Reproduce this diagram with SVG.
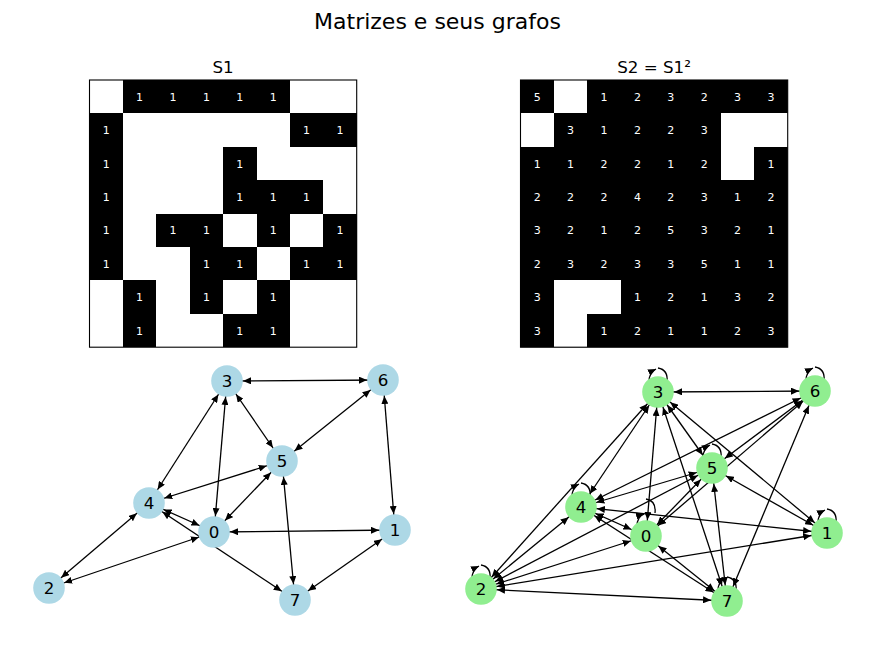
<svg xmlns="http://www.w3.org/2000/svg" width="875" height="653" viewBox="0 0 875 653">
<style>
text{font-family:"DejaVu Sans","Liberation Sans",sans-serif;}
.title{font-size:22px;text-anchor:middle;fill:#000;}
.sub{font-size:16.7px;text-anchor:middle;fill:#000;}
.cv{font-size:11px;text-anchor:middle;fill:#fff;}
.blk{fill:#000;}
.wht{fill:#fff;}
.frame{fill:none;stroke:#000;stroke-width:1.1;}
.e{stroke:#000;stroke-width:1.3;fill:none;marker-start:url(#ah);marker-end:url(#ah);}
.loop{stroke:#000;stroke-width:1.3;fill:none;marker-end:url(#lh);}
.nb{fill:#add8e6;}
.ng{fill:#90ee90;}
.nl{font-size:16.7px;text-anchor:middle;fill:#000;}
</style>
<defs>
<marker id="ah" markerUnits="userSpaceOnUse" markerWidth="8" markerHeight="7" refX="24" refY="3.5" orient="auto-start-reverse"><path d="M0,0 L8,3.5 L0,7 z" fill="#000"/></marker>
<marker id="lh" markerUnits="userSpaceOnUse" markerWidth="8" markerHeight="7" refX="8" refY="3.5" orient="auto"><path d="M0,0 L8,3.5 L0,7 z" fill="#000"/></marker>
</defs>
<rect width="875" height="653" fill="#fff"/>
<text class="title" x="437.5" y="28.5">Matrizes e seus grafos</text>

<g id="matrix-S1">
<text class="sub" x="223" y="72.5">S1</text>
<rect class="wht" x="89.5" y="80" width="267.2" height="267.2"/>
<g class="blk" shape-rendering="crispEdges">
<rect x="122.9" y="80" width="167" height="33.4"/>
<rect x="89.5" y="113.4" width="33.4" height="167"/>
<rect x="289.9" y="113.4" width="66.8" height="33.4"/>
<rect x="223.1" y="146.8" width="33.4" height="33.4"/>
<rect x="223.1" y="180.2" width="100.2" height="33.4"/>
<rect x="156.3" y="213.6" width="66.8" height="33.4"/>
<rect x="256.5" y="213.6" width="33.4" height="33.4"/>
<rect x="323.3" y="213.6" width="33.4" height="33.4"/>
<rect x="189.7" y="247" width="66.8" height="33.4"/>
<rect x="289.9" y="247" width="66.8" height="33.4"/>
<rect x="122.9" y="280.4" width="33.4" height="66.8"/>
<rect x="189.7" y="280.4" width="33.4" height="33.4"/>
<rect x="256.5" y="280.4" width="33.4" height="66.8"/>
<rect x="223.1" y="313.8" width="33.4" height="33.4"/>
</g>
<g>
<text class="cv" x="139.6" y="100.7">1</text><text class="cv" x="173" y="100.7">1</text><text class="cv" x="206.4" y="100.7">1</text><text class="cv" x="239.8" y="100.7">1</text><text class="cv" x="273.2" y="100.7">1</text>
<text class="cv" x="106.2" y="134.1">1</text><text class="cv" x="306.6" y="134.1">1</text><text class="cv" x="340" y="134.1">1</text>
<text class="cv" x="106.2" y="167.5">1</text><text class="cv" x="239.8" y="167.5">1</text>
<text class="cv" x="106.2" y="200.9">1</text><text class="cv" x="239.8" y="200.9">1</text><text class="cv" x="273.2" y="200.9">1</text><text class="cv" x="306.6" y="200.9">1</text>
<text class="cv" x="106.2" y="234.3">1</text><text class="cv" x="173" y="234.3">1</text><text class="cv" x="206.4" y="234.3">1</text><text class="cv" x="273.2" y="234.3">1</text><text class="cv" x="340" y="234.3">1</text>
<text class="cv" x="106.2" y="267.7">1</text><text class="cv" x="206.4" y="267.7">1</text><text class="cv" x="239.8" y="267.7">1</text><text class="cv" x="306.6" y="267.7">1</text><text class="cv" x="340" y="267.7">1</text>
<text class="cv" x="139.6" y="301.1">1</text><text class="cv" x="206.4" y="301.1">1</text><text class="cv" x="273.2" y="301.1">1</text>
<text class="cv" x="139.6" y="334.5">1</text><text class="cv" x="239.8" y="334.5">1</text><text class="cv" x="273.2" y="334.5">1</text>
</g>
<rect class="frame" x="89.5" y="80" width="267.2" height="267.2"/>
</g>

<g id="matrix-S2">
<text class="sub" x="654" y="72.5">S2 = S1²</text>
<rect class="blk" x="520.5" y="80" width="267.2" height="267.2"/>
<g class="wht" shape-rendering="crispEdges">
<rect x="553.9" y="80" width="33.4" height="33.4"/>
<rect x="520.5" y="113.4" width="33.4" height="33.4"/>
<rect x="720.9" y="113.4" width="66.8" height="33.4"/>
<rect x="720.9" y="146.8" width="33.4" height="33.4"/>
<rect x="553.9" y="280.4" width="66.8" height="33.4"/>
<rect x="553.9" y="313.8" width="33.4" height="33.4"/>
</g>
<g>
<text class="cv" x="537.2" y="100.7">5</text><text class="cv" x="604" y="100.7">1</text><text class="cv" x="637.4" y="100.7">2</text><text class="cv" x="670.8" y="100.7">3</text><text class="cv" x="704.2" y="100.7">2</text><text class="cv" x="737.6" y="100.7">3</text><text class="cv" x="771" y="100.7">3</text>
<text class="cv" x="570.6" y="134.1">3</text><text class="cv" x="604" y="134.1">1</text><text class="cv" x="637.4" y="134.1">2</text><text class="cv" x="670.8" y="134.1">2</text><text class="cv" x="704.2" y="134.1">3</text>
<text class="cv" x="537.2" y="167.5">1</text><text class="cv" x="570.6" y="167.5">1</text><text class="cv" x="604" y="167.5">2</text><text class="cv" x="637.4" y="167.5">2</text><text class="cv" x="670.8" y="167.5">1</text><text class="cv" x="704.2" y="167.5">2</text><text class="cv" x="771" y="167.5">1</text>
<text class="cv" x="537.2" y="200.9">2</text><text class="cv" x="570.6" y="200.9">2</text><text class="cv" x="604" y="200.9">2</text><text class="cv" x="637.4" y="200.9">4</text><text class="cv" x="670.8" y="200.9">2</text><text class="cv" x="704.2" y="200.9">3</text><text class="cv" x="737.6" y="200.9">1</text><text class="cv" x="771" y="200.9">2</text>
<text class="cv" x="537.2" y="234.3">3</text><text class="cv" x="570.6" y="234.3">2</text><text class="cv" x="604" y="234.3">1</text><text class="cv" x="637.4" y="234.3">2</text><text class="cv" x="670.8" y="234.3">5</text><text class="cv" x="704.2" y="234.3">3</text><text class="cv" x="737.6" y="234.3">2</text><text class="cv" x="771" y="234.3">1</text>
<text class="cv" x="537.2" y="267.7">2</text><text class="cv" x="570.6" y="267.7">3</text><text class="cv" x="604" y="267.7">2</text><text class="cv" x="637.4" y="267.7">3</text><text class="cv" x="670.8" y="267.7">3</text><text class="cv" x="704.2" y="267.7">5</text><text class="cv" x="737.6" y="267.7">1</text><text class="cv" x="771" y="267.7">1</text>
<text class="cv" x="537.2" y="301.1">3</text><text class="cv" x="637.4" y="301.1">1</text><text class="cv" x="670.8" y="301.1">2</text><text class="cv" x="704.2" y="301.1">1</text><text class="cv" x="737.6" y="301.1">3</text><text class="cv" x="771" y="301.1">2</text>
<text class="cv" x="537.2" y="334.5">3</text><text class="cv" x="604" y="334.5">1</text><text class="cv" x="637.4" y="334.5">2</text><text class="cv" x="670.8" y="334.5">1</text><text class="cv" x="704.2" y="334.5">1</text><text class="cv" x="737.6" y="334.5">2</text><text class="cv" x="771" y="334.5">3</text>
</g>
<rect class="frame" x="520.5" y="80" width="267.2" height="267.2"/>
</g>

<g id="edges-left">
<line class="e" x1="214" y1="532" x2="395" y2="530"/>
<line class="e" x1="214" y1="532" x2="49" y2="588"/>
<line class="e" x1="214" y1="532" x2="227" y2="381"/>
<line class="e" x1="214" y1="532" x2="149" y2="503"/>
<line class="e" x1="214" y1="532" x2="282" y2="461"/>
<line class="e" x1="395" y1="530" x2="383" y2="380"/>
<line class="e" x1="395" y1="530" x2="295" y2="600"/>
<line class="e" x1="49" y1="588" x2="149" y2="503"/>
<line class="e" x1="227" y1="381" x2="149" y2="503"/>
<line class="e" x1="227" y1="381" x2="282" y2="461"/>
<line class="e" x1="227" y1="381" x2="383" y2="380"/>
<line class="e" x1="149" y1="503" x2="282" y2="461"/>
<line class="e" x1="149" y1="503" x2="295" y2="600"/>
<line class="e" x1="282" y1="461" x2="383" y2="380"/>
<line class="e" x1="282" y1="461" x2="295" y2="600"/>
</g>

<g id="nodes-left">
<g id="L0"><circle class="nb" cx="214" cy="532" r="15.8"/><text class="nl" x="214" y="538">0</text></g>
<g id="L1"><circle class="nb" cx="395" cy="530" r="15.8"/><text class="nl" x="395" y="536">1</text></g>
<g id="L2"><circle class="nb" cx="49" cy="588" r="15.8"/><text class="nl" x="49" y="594">2</text></g>
<g id="L3"><circle class="nb" cx="227" cy="381" r="15.8"/><text class="nl" x="227" y="387">3</text></g>
<g id="L4"><circle class="nb" cx="149" cy="503" r="15.8"/><text class="nl" x="149" y="509">4</text></g>
<g id="L5"><circle class="nb" cx="282" cy="461" r="15.8"/><text class="nl" x="282" y="467">5</text></g>
<g id="L6"><circle class="nb" cx="383" cy="380" r="15.8"/><text class="nl" x="383" y="386">6</text></g>
<g id="L7"><circle class="nb" cx="295" cy="600" r="15.8"/><text class="nl" x="295" y="606">7</text></g>
</g>

<g id="edges-right">
<line class="e" x1="646" y1="536" x2="481" y2="589"/>
<line class="e" x1="646" y1="536" x2="658" y2="392"/>
<line class="e" x1="646" y1="536" x2="581" y2="507"/>
<line class="e" x1="646" y1="536" x2="712" y2="468"/>
<line class="e" x1="646" y1="536" x2="815" y2="391"/>
<line class="e" x1="646" y1="536" x2="727" y2="601"/>
<line class="e" x1="827" y1="533" x2="481" y2="589"/>
<line class="e" x1="827" y1="533" x2="658" y2="392"/>
<line class="e" x1="827" y1="533" x2="581" y2="507"/>
<line class="e" x1="827" y1="533" x2="712" y2="468"/>
<line class="e" x1="481" y1="589" x2="658" y2="392"/>
<line class="e" x1="481" y1="589" x2="581" y2="507"/>
<line class="e" x1="481" y1="589" x2="712" y2="468"/>
<line class="e" x1="481" y1="589" x2="727" y2="601"/>
<line class="e" x1="658" y1="392" x2="581" y2="507"/>
<line class="e" x1="658" y1="392" x2="712" y2="468"/>
<line class="e" x1="658" y1="392" x2="815" y2="391"/>
<line class="e" x1="658" y1="392" x2="727" y2="601"/>
<line class="e" x1="581" y1="507" x2="712" y2="468"/>
<line class="e" x1="581" y1="507" x2="815" y2="391"/>
<line class="e" x1="581" y1="507" x2="727" y2="601"/>
<line class="e" x1="712" y1="468" x2="815" y2="391"/>
<line class="e" x1="712" y1="468" x2="727" y2="601"/>
<line class="e" x1="815" y1="391" x2="727" y2="601"/>
<path class="loop" d="M655,513 C656,504 652,500 646,499 M637,526 C637,520 640,515 644,514"/>
<path class="loop" d="M836,523 C837,514 833,510 827,509 M818,523 C818,517 821,512 825,510"/>
<path class="loop" d="M490,579 C491,570 487,566 481,565 M472,579 C472,573 475,568 479,566"/>
<path class="loop" d="M667,382 C668,373 664,369 658,368 M649,382 C649,376 652,371 656,369"/>
<path class="loop" d="M590,497 C591,488 587,484 581,483 M572,497 C572,491 575,486 579,484"/>
<path class="loop" d="M721,458 C722,449 718,445 712,444 M703,458 C703,452 706,447 710,445"/>
<path class="loop" d="M824,381 C825,372 821,368 815,367 M806,381 C806,375 809,370 813,368"/>
<path class="loop" d="M736,591 C737,582 733,578 727,577 M718,591 C718,585 721,580 725,578"/>
</g>

<g id="nodes-right">
<g id="R0"><circle class="ng" cx="646" cy="536" r="15.8"/><text class="nl" x="646" y="542">0</text></g>
<g id="R1"><circle class="ng" cx="827" cy="533" r="15.8"/><text class="nl" x="827" y="539">1</text></g>
<g id="R2"><circle class="ng" cx="481" cy="589" r="15.8"/><text class="nl" x="481" y="595">2</text></g>
<g id="R3"><circle class="ng" cx="658" cy="392" r="15.8"/><text class="nl" x="658" y="398">3</text></g>
<g id="R4"><circle class="ng" cx="581" cy="507" r="15.8"/><text class="nl" x="581" y="513">4</text></g>
<g id="R5"><circle class="ng" cx="712" cy="468" r="15.8"/><text class="nl" x="712" y="474">5</text></g>
<g id="R6"><circle class="ng" cx="815" cy="391" r="15.8"/><text class="nl" x="815" y="397">6</text></g>
<g id="R7"><circle class="ng" cx="727" cy="601" r="15.8"/><text class="nl" x="727" y="607">7</text></g>
</g>
</svg>
